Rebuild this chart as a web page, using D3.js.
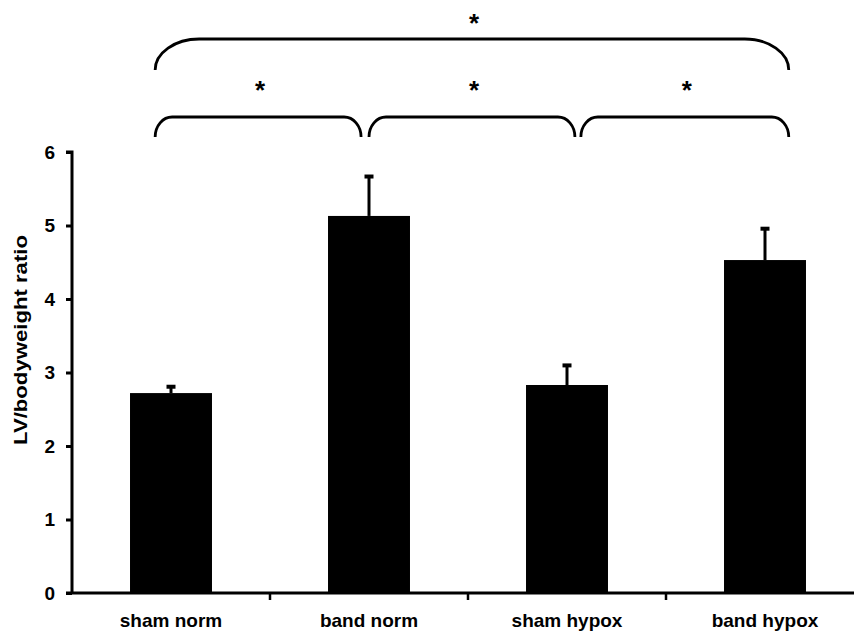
<!DOCTYPE html>
<html>
<head>
<meta charset="utf-8">
<script src="https://cdn.jsdelivr.net/npm/d3@7"></script>
<style>
  body { margin: 0; background: #fff; }
  text { font-family: "Liberation Sans", Arial, sans-serif; font-weight: bold; }
</style>
</head>
<body>
<div id="chart"></div>
<script>
var groups = ["sham norm", "band norm", "sham hypox", "band hypox"];
var means = [2.72, 5.13, 2.83, 4.53];
var errors = [0.10, 0.55, 0.28, 0.44];
var yTicks = [0, 1, 2, 3, 4, 5, 6];

// significance braces, in category index units (0 = first bar centre)
var braceFrom = [-0.08, 1.0, 2.07, -0.08];
var braceTo = [0.96, 2.04, 3.12, 3.12];
var braceLevel = [0, 0, 0, 1];
var braceLabel = ["*", "*", "*", "*"];

var width = 854;
var height = 633;
var margin = { top: 152, right: -10, bottom: 40, left: 72 };

var svg = d3.select("#chart")
  .append("svg")
  .attr("width", width)
  .attr("height", height);

var x = d3.scaleBand()
  .domain(groups)
  .range([margin.left, width - margin.right])
  .paddingInner(0.586)
  .paddingOuter(0.293);

var step = x.step();
var xi = d3.scaleLinear()
  .domain([0, 1])
  .range([margin.left + step / 2, margin.left + step * 1.5]);

var y = d3.scaleLinear()
  .domain([0, 6])
  .range([height - margin.bottom, margin.top]);

// bars
svg.append("g")
  .selectAll("rect")
  .data(groups)
  .join("rect")
  .attr("x", d => x(d))
  .attr("width", x.bandwidth())
  .attr("y", (d, i) => y(means[i]))
  .attr("height", (d, i) => y(0) - y(means[i]))
  .attr("fill", "#000");

// error bars (upper only)
var eb = svg.append("g").attr("stroke", "#000");
groups.forEach(function (g, i) {
  var cx = x(g) + x.bandwidth() / 2;
  eb.append("line")
    .attr("x1", cx).attr("x2", cx)
    .attr("y1", y(means[i])).attr("y2", y(means[i] + errors[i]))
    .attr("stroke-width", 3);
  eb.append("line")
    .attr("x1", cx - 4.5).attr("x2", cx + 4.5)
    .attr("y1", y(means[i] + errors[i]) + 1).attr("y2", y(means[i] + errors[i]) + 1)
    .attr("stroke-width", 4);
});

// y axis
var yAxis = svg.append("g")
  .attr("transform", "translate(" + margin.left + ",0)")
  .call(d3.axisLeft(y).tickValues(yTicks).tickSize(6).tickPadding(11).tickFormat(d3.format("d")));
yAxis.select(".domain").attr("stroke-width", 3).attr("d", "M-6," + y(6) + "H0V" + y(0));
yAxis.selectAll(".tick line").attr("stroke-width", 3);
yAxis.selectAll(".tick text").style("font-size", "19px").attr("fill", "#000");

// x axis
var xAxis = svg.append("g")
  .attr("transform", "translate(0," + y(0) + ")");
xAxis.append("line")
  .attr("x1", margin.left - 6).attr("x2", width)
  .attr("stroke", "#000").attr("stroke-width", 3);
xAxis.selectAll(".sep")
  .data(groups.slice(1))
  .join("line")
  .attr("class", "sep")
  .attr("x1", d => x(d) - x.step() * x.paddingInner() / 2)
  .attr("x2", d => x(d) - x.step() * x.paddingInner() / 2)
  .attr("y1", 0).attr("y2", 7)
  .attr("stroke", "#000").attr("stroke-width", 2.5);
xAxis.selectAll("text")
  .data(groups)
  .join("text")
  .attr("x", d => x(d) + x.bandwidth() / 2)
  .attr("y", 34)
  .attr("text-anchor", "middle")
  .style("font-size", "19px")
  .text(d => d);

// y title
svg.append("text")
  .attr("transform", "translate(27," + 340 + ") rotate(-90)")
  .attr("text-anchor", "middle")
  .attr("textLength", 210)
  .attr("lengthAdjust", "spacingAndGlyphs")
  .style("font-size", "18px")
  .text("LV/bodyweight ratio");

// braces
var levelTop = [117, 39];
var levelEnd = [137, 70];
var levelRx = [17, 44];
var levelStar = [99, 32];
braceFrom.forEach(function (f, i) {
  var x0 = xi(f), x1 = xi(braceTo[i]);
  var lv = braceLevel[i];
  var top = levelTop[lv], bot = levelEnd[lv], rx = levelRx[lv], ry = bot - top;
  var p = "M" + x0 + "," + bot +
    " A" + rx + "," + ry + " 0 0 1 " + (x0 + rx) + "," + top +
    " H" + (x1 - rx) +
    " A" + rx + "," + ry + " 0 0 1 " + x1 + "," + bot;
  svg.append("path")
    .attr("d", p)
    .attr("fill", "none")
    .attr("stroke", "#000")
    .attr("stroke-width", 2.8);
  svg.append("text")
    .attr("x", (x0 + x1) / 2 + 2)
    .attr("y", levelStar[lv])
    .attr("text-anchor", "middle")
    .style("font-size", "26px")
    .text(braceLabel[i]);
});
</script>
</body>
</html>
